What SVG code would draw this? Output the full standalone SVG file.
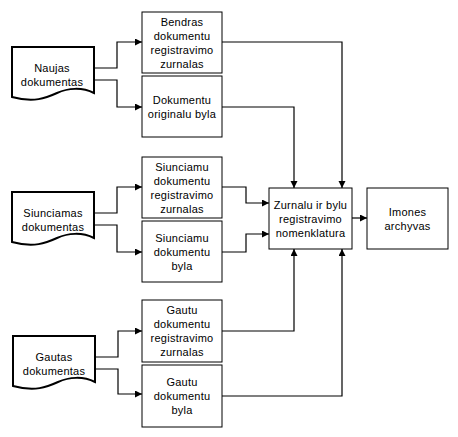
<svg xmlns="http://www.w3.org/2000/svg" width="458" height="437" viewBox="0 0 458 437">
<style>
.box{fill:#fff;stroke:#000;stroke-width:1}
.doc{fill:#fff;stroke:#000;stroke-width:2;stroke-linejoin:miter}
.t{font-family:"Liberation Sans",Arial,sans-serif;font-size:11px;fill:#000;text-anchor:middle;letter-spacing:0.25px}
.c{fill:none;stroke:#000;stroke-width:1.2}
</style>
<defs>
<marker id="ar" markerUnits="userSpaceOnUse" markerWidth="8" markerHeight="8" refX="7" refY="3.5" orient="auto">
<path d="M0,0 L7,3.5 L0,7 Z" fill="#000"/>
</marker>
<path id="docshape" d="M0,0 H82 V46 C70,40 56,41 45,46 C34,51 22,56 0,50 Z"/>
</defs>
<g id="connectors">
<path class="c" d="M94,68 H117 V42 H142" marker-end="url(#ar)"/>
<path class="c" d="M94,80 H117 V107 H142" marker-end="url(#ar)"/>
<path class="c" d="M94,213 H117 V187 H142" marker-end="url(#ar)"/>
<path class="c" d="M94,225 H117 V252 H142" marker-end="url(#ar)"/>
<path class="c" d="M95,357 H118 V331 H142" marker-end="url(#ar)"/>
<path class="c" d="M95,369 H118 V394 H142" marker-end="url(#ar)"/>
<path class="c" d="M222,42 H342 V188" marker-end="url(#ar)"/>
<path class="c" d="M222,107 H294 V188" marker-end="url(#ar)"/>
<path class="c" d="M222,187 H246 V203 H269" marker-end="url(#ar)"/>
<path class="c" d="M222,252 H246 V234 H269" marker-end="url(#ar)"/>
<path class="c" d="M222,331 H294 V249" marker-end="url(#ar)"/>
<path class="c" d="M222,396 H342 V249" marker-end="url(#ar)"/>
<path class="c" d="M352,218 H367" marker-end="url(#ar)"/>
</g>
<g id="naujas">
<use href="#docshape" class="doc" transform="translate(12,47)"/>
<text class="t" x="52" y="71.5">Naujas</text>
<text class="t" x="52" y="85.5">dokumentas</text>
</g>
<g id="siunciamas">
<use href="#docshape" class="doc" transform="translate(12,192)"/>
<text class="t" x="53" y="216.5">Siunciamas</text>
<text class="t" x="53" y="230.5">dokumentas</text>
</g>
<g id="gautas">
<use href="#docshape" class="doc" transform="translate(13,336)"/>
<text class="t" x="54" y="360.5">Gautas</text>
<text class="t" x="54" y="374.5">dokumentas</text>
</g>
<g id="bendras">
<rect class="box" x="142" y="12" width="80" height="61"/>
<text class="t" x="182" y="25.5">Bendras</text>
<text class="t" x="182" y="39.5">dokumentu</text>
<text class="t" x="182" y="53.5">registravimo</text>
<text class="t" x="182" y="67.5">zurnalas</text>
</g>
<g id="dokorig">
<rect class="box" x="142" y="76" width="80" height="61"/>
<text class="t" x="182" y="103.5">Dokumentu</text>
<text class="t" x="182" y="117.5">originalu byla</text>
</g>
<g id="siunc1">
<rect class="box" x="142" y="157" width="80" height="61"/>
<text class="t" x="182" y="170.5">Siunciamu</text>
<text class="t" x="182" y="184.5">dokumentu</text>
<text class="t" x="182" y="198.5">registravimo</text>
<text class="t" x="182" y="212.5">zurnalas</text>
</g>
<g id="siunc2">
<rect class="box" x="142" y="221" width="80" height="61"/>
<text class="t" x="182" y="241.5">Siunciamu</text>
<text class="t" x="182" y="255.5">dokumentu</text>
<text class="t" x="182" y="269.5">byla</text>
</g>
<g id="gautu1">
<rect class="box" x="142" y="300" width="80" height="62"/>
<text class="t" x="182" y="314">Gautu</text>
<text class="t" x="182" y="328">dokumentu</text>
<text class="t" x="182" y="342">registravimo</text>
<text class="t" x="182" y="356">zurnalas</text>
</g>
<g id="gautu2">
<rect class="box" x="142" y="365" width="80" height="62"/>
<text class="t" x="182" y="386">Gautu</text>
<text class="t" x="182" y="400">dokumentu</text>
<text class="t" x="182" y="414">byla</text>
</g>
<g id="nomenklatura">
<rect class="box" x="269" y="188" width="83" height="61"/>
<text class="t" x="310.5" y="208.5">Zurnalu ir bylu</text>
<text class="t" x="310.5" y="222.5">registravimo</text>
<text class="t" x="310.5" y="236.5">nomenklatura</text>
</g>
<g id="archyvas">
<rect class="box" x="367" y="188" width="81" height="61"/>
<text class="t" x="407.5" y="215.5">Imones</text>
<text class="t" x="407.5" y="229.5">archyvas</text>
</g>
</svg>
